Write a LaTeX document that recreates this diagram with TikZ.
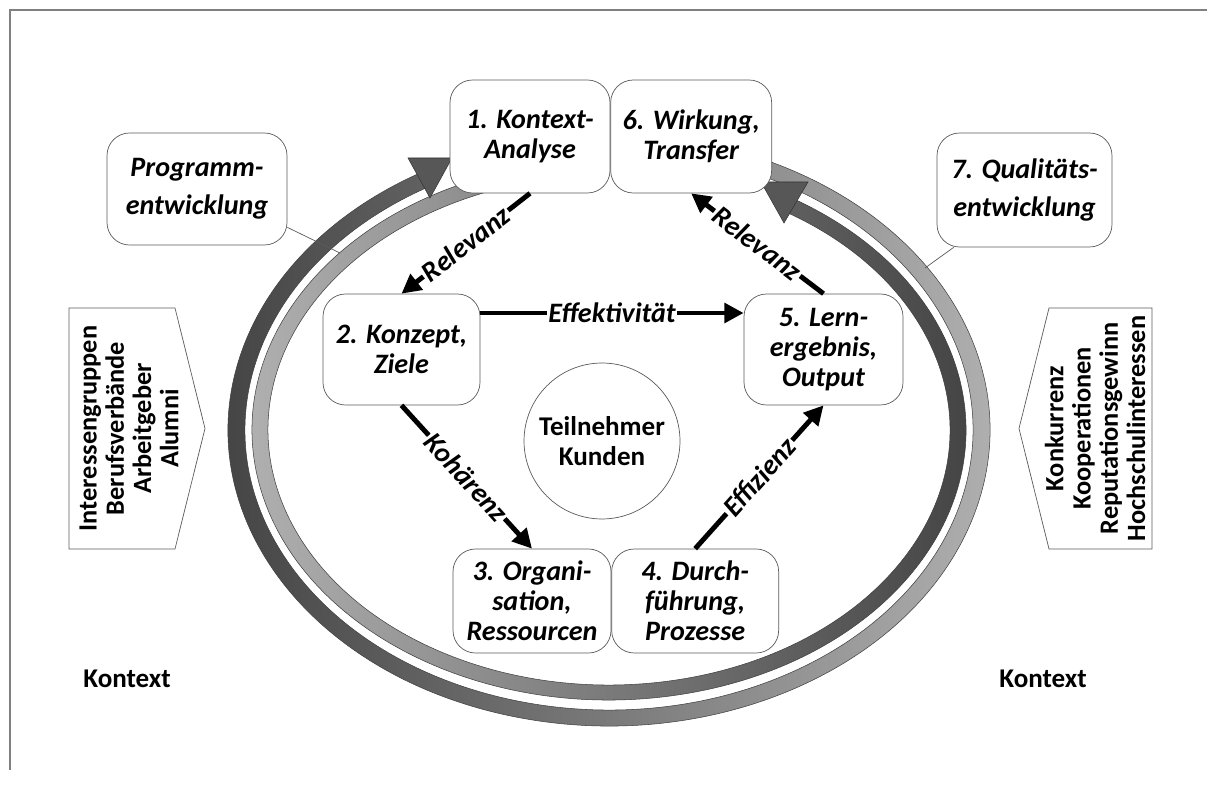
\documentclass[tikz,border=0pt]{standalone}
\usepackage{fontspec}
\setmainfont{Carlito}
\usepackage{tikz}
\usetikzlibrary{arrows.meta, positioning}
\definecolor{ringdark}{HTML}{404040}
\definecolor{ringlight}{HTML}{B4B4B4}
\definecolor{tipgrey}{HTML}{575757}
\definecolor{boxline}{HTML}{5A5A5A}
\definecolor{framegrey}{HTML}{808080}

\begin{document}
\begin{tikzpicture}[x=0.02cm, y=0.02cm,
  stage/.style={draw=boxline, fill=white, rounded corners=0.45cm, align=center,
    inner sep=2pt, font=\fontsize{16}{17}\selectfont\bfseries\itshape},
  callout/.style={stage, font=\fontsize{16}{21.5}\selectfont\bfseries\itshape},
  flow/.style={line width=2.8pt, -{Triangle[length=11pt, width=11pt]}},
  tag/.style={midway, sloped, fill=white, inner sep=1pt,
    font=\fontsize{16}{17}\selectfont\bfseries\itshape},
  ring/.style={draw=black!75, line width=0.3pt},
  tip/.style={fill=tipgrey, draw=black!80, line width=0.3pt},
  side/.style={draw=boxline, line width=0.4pt},
  sidetext/.style={rotate=90, align=center, font=\fontsize{15}{15.5}\selectfont\bfseries},
  plain/.style={font=\fontsize{15.4}{17}\selectfont\bfseries}]
\useasboundingbox (0,0) rectangle (1207,785);
% frame
\draw[framegrey, line width=0.8pt] (10,15) -- (10,775) -- (1207,775);

% rings
\begin{scope}[shift={(609,355)}]
\shadedraw[ring, left color=ringdark, right color=ringlight]
  (76:381 and 296) arc[start angle=76, end angle=-241, x radius=381, y radius=296]
  -- (-241:364 and 280) arc[start angle=-241, end angle=76, x radius=364, y radius=280]
  -- cycle;
\shadedraw[ring, left color=ringlight, right color=ringdark]
  (101.4:357 and 270) arc[start angle=101.4, end angle=420.1, x radius=357, y radius=270]
  -- (420.1:341 and 255) arc[start angle=420.1, end angle=101.4, x radius=341, y radius=255]
  -- cycle;
\end{scope}
\filldraw[tip] (408,627) -- (452,627) -- (430,587) -- cycle;
\filldraw[tip] (761,603) -- (808,603) -- (784,562) -- cycle;

% callouts
\node[callout, minimum width=3.6cm, minimum height=2.24cm] (prog) at (197,596)
  {Programm-\\entwicklung};
\node[callout, minimum width=3.5cm, minimum height=2.28cm] (qual) at (1024.5,595)
  {7. Qualitäts-\\entwicklung};
\coordinate (progpin) at (340,532);
\coordinate (qualpin) at (925,517);
\draw[boxline, line width=0.4pt] (prog.-23) -- (progpin);
\draw[boxline, line width=0.4pt] (qual.219) -- (qualpin);

% stages
\node[stage, minimum width=3.2cm, minimum height=2.26cm] (kontext) at (530,648.5)
  {1. Kontext-\\Analyse};
\node[stage, minimum width=3.22cm, minimum height=2.26cm, right=0pt of kontext] (wirkung)
  {6. Wirkung,\\Transfer};
\node[stage, minimum width=3.14cm, minimum height=2.22cm] (konzept) at (401.5,435.5)
  {2. Konzept,\\Ziele};
\node[stage, minimum width=3.18cm, minimum height=2.22cm] (lern) at (823.5,435.5)
  {5. Lern-\\ergebnis,\\Output};
\node[stage, minimum width=3.16cm, minimum height=2.08cm] (orga) at (532,184)
  {3. Organi-\\sation,\\Ressourcen};
\node[stage, minimum width=3.34cm, minimum height=2.08cm, right=0pt of orga] (durch)
  {4. Durch-\\führung,\\Prozesse};
\node[draw=boxline, fill=white, circle, minimum size=3.12cm, align=center, plain] (kunde)
  at (602,344) {Teilnehmer\\Kunden};

% arrows between stages
\draw[flow] (kontext.south) -- node[tag] {Relevanz} (konzept.north);
\draw[flow] ([yshift=0.73cm]konzept.east) -- node[tag] {Effektivität} ([yshift=0.73cm]lern.west);
\draw[flow] (konzept.south) -- node[tag] {Kohärenz} (orga.north);
\draw[flow] (durch.north) -- node[tag] {Effizienz} (lern.south);
\draw[flow] (lern.north) -- node[tag] {Relevanz} (wirkung.south);

% stakeholders
\draw[side] (69,477) -- (175,477) -- (205,356.5) -- (175,236) -- (69,236) -- cycle;
\node[sidetext] (groupsL) at (129,356.5)
  {Interessengruppen\\Berufsverbände\\Arbeitgeber\\Alumni};
\draw[side] (1152,477) -- (1049,477) -- (1019,356.5) -- (1049,236) -- (1152,236) -- cycle;
\node[sidetext] (groupsR) at (1095,356.5)
  {Konkurrenz\\Kooperationen\\Reputationsgewinn\\Hochschulinteressen};

\node[plain] (ctxL) at (127,106) {Kontext};
\node[plain] (ctxR) at (1043,106) {Kontext};
\end{tikzpicture}
\end{document}
